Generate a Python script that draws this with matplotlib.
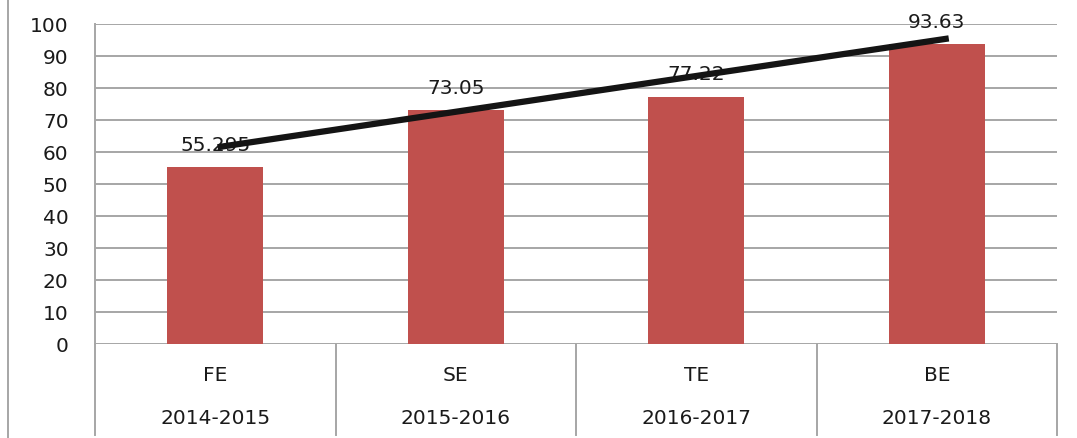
import matplotlib
matplotlib.use("Agg")
import matplotlib.pyplot as plt
from matplotlib.lines import Line2D

categories = ["FE", "SE", "TE", "BE"]
years = ["2014-2015", "2015-2016", "2016-2017", "2017-2018"]
values = [55.295, 73.05, 77.22, 93.63]
value_labels = ["55.295", "73.05", "77.22", "93.63"]
trend_values = [61.5, 95.5]  # drawn trend line start/end (FE -> BE)

plt.rcParams['font.family'] = ['DejaVu Sans']

fig = plt.figure(figsize=(10.77, 4.39), dpi=100)
ax = fig.add_axes([95/1077, 1-345/439, (1057-95)/1077, (345-25)/439])

grid_c = "#A6A6A6"
txt_c = "#1a1a1a"
fs = 14.5
x = list(range(len(categories)))
ax.bar(x, values, width=0.4, color="#C0504D", zorder=2)
ax.set_xlim(-0.5, len(categories)-0.5)
ax.set_ylim(0, 100)
ax.set_yticks(range(0, 101, 10))
ax.tick_params(axis='y', length=0, pad=19, labelsize=fs, colors=txt_c)
ax.set_xticks([])
for s in ["top", "right", "bottom"]:
    ax.spines[s].set_visible(False)
ax.spines["left"].set_color(grid_c)
ax.spines["left"].set_linewidth(1.4)
ax.yaxis.grid(True, color=grid_c, linewidth=1.4, zorder=0)
ax.set_axisbelow(True)

# data labels
for xi, v, lab in zip(x, values, value_labels):
    ax.annotate(lab, (xi, v), xytext=(0, 23), textcoords="offset pixels",
                ha="center", va="center", fontsize=fs, color=txt_c, zorder=3)

# trend line
ax.plot([x[0] + 0.01, x[-1] + 0.05], trend_values, color="#141414",
        linewidth=4.5, solid_capstyle="butt", zorder=4)

# category axis (two-level)
depth = (436-345)/320
trans = ax.get_xaxis_transform()
for b in [-0.5 + i for i in range(len(categories)+1)]:
    ax.plot([b, b], [0, -depth], transform=trans, color=grid_c, lw=1.4, clip_on=False)
for xi, c, yr in zip(x, categories, years):
    ax.text(xi, -(376-345)/320, c, transform=trans, ha="center", va="center",
            fontsize=fs, color=txt_c)
    ax.text(xi, -(419-345)/320, yr, transform=trans, ha="center", va="center",
            fontsize=fs, color=txt_c)

# chart outer border on the left
fig.add_artist(Line2D([8/1077, 8/1077], [0, 1], transform=fig.transFigure,
                      color=grid_c, lw=1.4))

fig.savefig("out.png", dpi=100)
